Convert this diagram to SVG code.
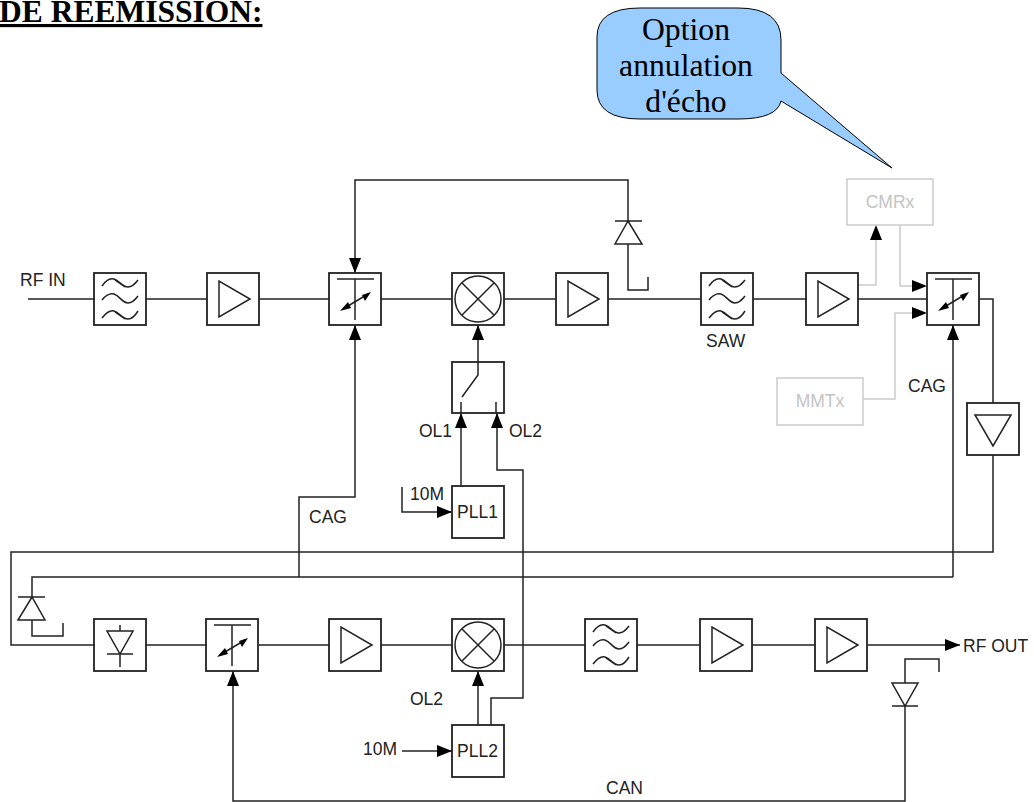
<svg xmlns="http://www.w3.org/2000/svg" width="1034" height="802" viewBox="0 0 1034 802">
<style>
.b{fill:#fff;stroke:#222;stroke-width:1.8}
.s{fill:none;stroke:#222;stroke-width:1.5}
.g{fill:none;stroke:#ccc;stroke-width:1.5}
.t{font-family:"Liberation Sans",Arial,sans-serif;font-size:17.5px;fill:#222}
.tg{font-family:"Liberation Sans",Arial,sans-serif;font-size:17.5px;fill:#c4c4c4;text-anchor:middle}
.c{font-family:"Liberation Serif","Times New Roman",serif;font-size:31.7px;fill:#000;text-anchor:middle}
</style>
<defs>
<marker id="a" markerUnits="userSpaceOnUse" markerWidth="16" markerHeight="12" refX="15" refY="6" orient="auto"><path d="M0 0L15 6L0 12Z" fill="#000"/></marker>
<g id="filt"><rect class="b" width="52" height="52"/><path class="s" d="M8 13C12 7 16 5 20 6C26 8 28 14 34 14C38 14 41 11 44 7M8 27C12 22 16 20 20 21C26 23 28 30 34 30C38 30 41 27 44 23M8 45C12 40 16 37 20 38C26 40 28 46 34 46C38 46 41 43 44 38M21 7L31 14M21 39L31 46"/></g>
<g id="amp"><rect class="b" width="52" height="52"/><path class="s" d="M12 8V44L43 26Z"/></g>
<g id="att"><rect class="b" width="52" height="52"/><path class="s" d="M8 6H45M26 6V47"/><path class="s" d="M14 36L39 21"/><path d="M11 38L19 29L22 35ZM42 19L33 22L36 28Z" fill="#000"/></g>
<g id="mix"><rect class="b" width="52" height="52"/><circle class="s" cx="26" cy="26" r="23"/><path class="s" d="M10 10L42 42M42 10L10 42"/></g>
</defs>
<g id="connectors">
<path class="s" d="M28 299H94M146 299H207M259 299H329M381 299H452M504 299H556M608 299H701M753 299H806M858 299H927"/>
<path class="s" marker-end="url(#a)" d="M628 221V180H355V273"/>
<path class="s" d="M628 244V290H648V277"/>
<path class="s" marker-end="url(#a)" d="M299 577V497H355V325"/>
<path class="s" marker-end="url(#a)" d="M478 362V325"/>
<path class="s" marker-end="url(#a)" d="M461 486V413"/>
<path class="s" marker-end="url(#a)" d="M491 725V698H523V470H497V413"/>
<path class="s" marker-end="url(#a)" d="M402 487V512H452"/>
<path class="s" marker-end="url(#a)" d="M402 751H452"/>
<path class="s" marker-end="url(#a)" d="M478 725V671"/>
<path class="g" d="M858 285H876V240"/>
<path d="M870 240L876 225L882 240Z" fill="#000"/>
<path class="g" d="M900 225V286H912"/>
<path d="M912 280L927 286L912 292Z" fill="#000"/>
<path class="g" d="M863 399H895V313H912"/>
<path d="M912 307L927 313L912 319Z" fill="#000"/>
<path class="s" marker-end="url(#a)" d="M953 577V325"/>
<path class="s" d="M979 299H993V403M993 455V552H11V645H94"/>
<path class="s" d="M953 577H32V597M32 620V636H63V623"/>
<path class="s" d="M146 645H206M259 645H329M381 645H452M504 645H585M637 645H700M752 645H815"/>
<path class="s" marker-end="url(#a)" d="M868 645H960"/>
<path class="s" marker-end="url(#a)" d="M905 706V801H233V671"/>
<path class="s" d="M905 683V659H939V672"/>
</g>
<g id="callout"><path d="M640 8H738Q781 8 781 40V73L892 168L781 101Q777 119 738 119H640Q597 119 597 90V37Q597 8 640 8Z" fill="#9cf" stroke="#000" stroke-width="1"/>
<text class="c" x="686" y="40">Option</text><text class="c" x="686" y="76">annulation</text><text class="c" x="686" y="112">d'écho</text></g>
<text id="title" x="-1" y="22" font-family="Liberation Serif,serif" font-size="31.5" font-weight="bold" text-decoration="underline" fill="#000">DE REEMISSION:</text>
<g id="rfin"><text class="t" x="20" y="286">RF IN</text></g>
<g id="filter1"><use href="#filt" x="94" y="273"/></g>
<g id="amp1"><use href="#amp" x="207" y="273"/></g>
<g id="att1"><use href="#att" x="329" y="273"/></g>
<g id="mix1"><use href="#mix" x="452" y="273"/></g>
<g id="amp2"><use href="#amp" x="556" y="273"/></g>
<g id="diode1"><path class="s" d="M615 221H642M628 221L615 244H642Z"/></g>
<g id="saw"><use href="#filt" x="701" y="273"/><text class="t" x="706" y="347">SAW</text></g>
<g id="amp3"><use href="#amp" x="806" y="273"/></g>
<g id="att2"><use href="#att" x="927" y="273"/></g>
<g id="cmrx"><rect x="847" y="179" width="86" height="46" fill="#fff" stroke="#ccc" stroke-width="1.5"/><text class="tg" x="890" y="208">CMRx</text></g>
<g id="mmtx"><rect x="777" y="378" width="86" height="47" fill="#fff" stroke="#ccc" stroke-width="1.5"/><text class="tg" x="820" y="407">MMTx</text></g>
<g id="cag2"><text class="t" x="908" y="392">CAG</text></g>
<g id="amp4"><rect class="b" x="967" y="403" width="52" height="52"/><path class="s" d="M975 415H1011L993 446Z"/></g>
<g id="switch"><rect class="b" x="452" y="362" width="52" height="51"/><path class="s" d="M478 362V375L462 397M461 402V413M496 402V413"/></g>
<g id="ol"><text class="t" x="419" y="437">OL1</text><text class="t" x="509" y="437">OL2</text></g>
<g id="pll1"><rect class="b" x="452" y="486" width="52" height="52"/><text class="t" x="457" y="518">PLL1</text><text class="t" x="410" y="500">10M</text></g>
<g id="cag1"><text class="t" x="309" y="523">CAG</text></g>
<g id="diode2"><path class="s" d="M18 597H45M32 597L18 620H45Z"/></g>
<g id="det"><rect class="b" x="94" y="619" width="52" height="52"/><path class="s" d="M120 625V631M107 631H133L120 654ZM107 654H133M120 654V667"/></g>
<g id="att3"><use href="#att" x="206" y="619"/></g>
<g id="amp5"><use href="#amp" x="329" y="619"/></g>
<g id="mix2"><use href="#mix" x="452" y="619"/></g>
<g id="filter3"><use href="#filt" x="585" y="619"/></g>
<g id="amp6"><use href="#amp" x="700" y="619"/></g>
<g id="amp7"><use href="#amp" x="815" y="619"/></g>
<g id="rfout"><text class="t" x="963" y="652">RF OUT</text></g>
<g id="diode3"><path class="s" d="M892 683H918L905 706ZM892 706H918"/></g>
<g id="pll2"><rect class="b" x="452" y="725" width="52" height="52"/><text class="t" x="457" y="757">PLL2</text><text class="t" x="363" y="755">10M</text><text class="t" x="410" y="705">OL2</text></g>
<g id="can"><text class="t" x="606" y="794">CAN</text></g>
</svg>
